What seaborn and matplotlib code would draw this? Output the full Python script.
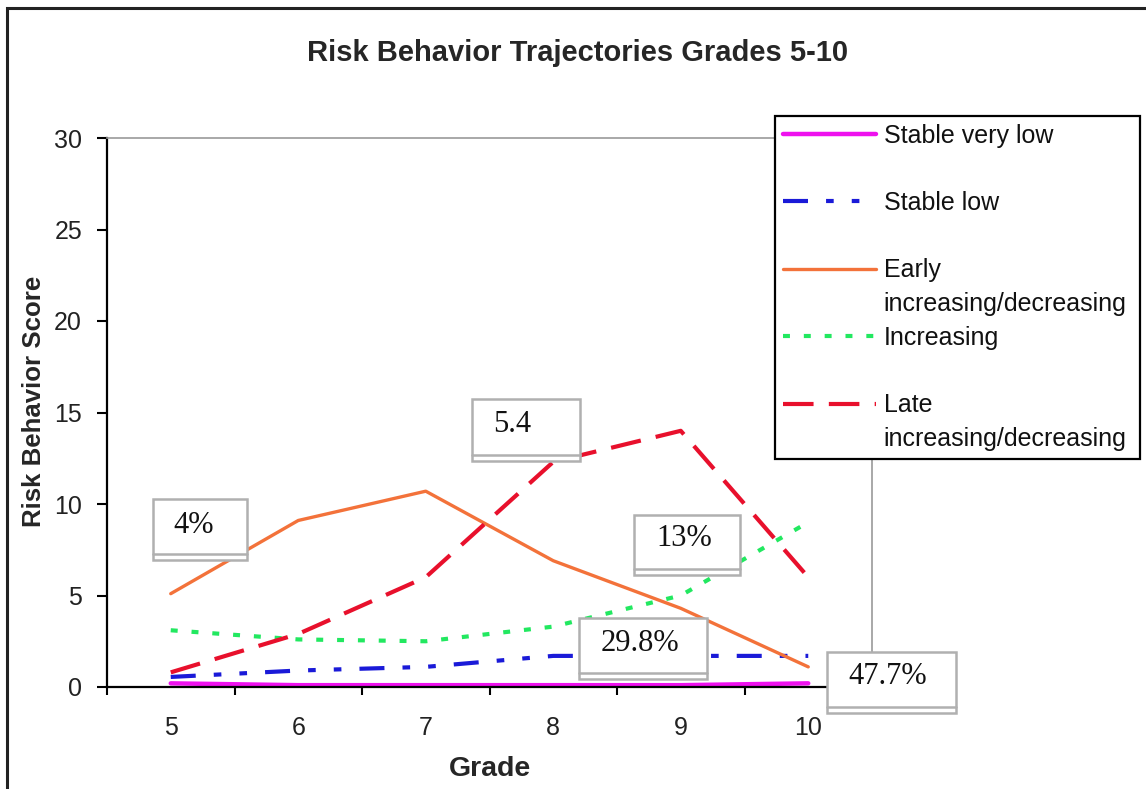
import matplotlib
matplotlib.use("Agg")
import matplotlib.pyplot as plt
import matplotlib.patches as mpatches
from matplotlib.lines import Line2D
import seaborn as sns
import pandas as pd
import numpy as np

# ---------------- data ----------------
grades = [5, 6, 7, 8, 9, 10]
series_names = ["Stable very low", "Stable low", "Early increasing/decreasing",
                "Increasing", "Late increasing/decreasing"]
stable_very_low = [0.2, 0.1, 0.1, 0.1, 0.1, 0.2]
stable_low = [0.55, 0.9, 1.1, 1.7, 1.7, 1.7]
early_inc_dec = [5.1, 9.1, 10.7, 6.9, 4.3, 1.1]
increasing = [3.1, 2.6, 2.5, 3.3, 5.0, 9.0]
late_inc_dec = [0.8, 2.9, 6.0, 12.3, 14.0, 6.0]
box_labels = ["4%", "5.4", "13%", "29.8%", "47.7%"]
y_ticks = [0, 5, 10, 15, 20, 25, 30]
title = "Risk Behavior Trajectories Grades 5-10"
x_label = "Grade"
y_label = "Risk Behavior Score"

values = [stable_very_low, stable_low, early_inc_dec, increasing, late_inc_dec]
df = pd.DataFrame({
    "Grade": grades * len(series_names),
    "Score": sum(values, []),
    "group": sum([[n] * len(grades) for n in series_names], []),
})

# ---------------- styles ----------------
sns.set_style("white")
plt.rcParams["font.family"] = ["Liberation Sans", "DejaVu Sans"]
plt.rcParams["lines.scale_dashes"] = False

colors = {
    "Stable very low": "#ee11ee",
    "Stable low": "#1a1ad8",
    "Early increasing/decreasing": "#f3723a",
    "Increasing": "#22e860",
    "Late increasing/decreasing": "#e8102c",
}
dashes = {
    "Stable very low": "",
    "Stable low": (18, 13, 5.5, 13, 5.5, 13),
    "Early increasing/decreasing": "",
    "Increasing": (5, 10),
    "Late increasing/decreasing": (22, 11),
}
widths = {
    "Stable very low": 3.2,
    "Stable low": 3.0,
    "Early increasing/decreasing": 2.4,
    "Increasing": 3.0,
    "Late increasing/decreasing": 3.0,
}

W, H = 1146, 789
fig = plt.figure(figsize=(W / 100, H / 100), dpi=100)
ax = fig.add_axes([107 / W, 1 - 687 / H, (872 - 107) / W, (687 - 138) / H])

sns.lineplot(data=df, x="Grade", y="Score", hue="group", style="group", size="group",
             hue_order=series_names, style_order=series_names, size_order=series_names,
             palette=colors, dashes=dashes, sizes=widths, legend=False, ax=ax)

ax.set_xlim(4.5, 10.5)
ax.set_ylim(0, 30)
ax.set_xticks(grades)
ax.set_xticklabels([str(g) for g in grades])
ax.set_xticks(np.arange(4.5, 10.51, 1.0), minor=True)
ax.set_yticks(y_ticks)
ax.tick_params(axis="x", which="major", length=0, pad=21, labelsize=18)
ax.tick_params(axis="x", which="minor", length=6, width=1.5, color="black", direction="out")
ax.tick_params(axis="y", which="major", length=7, width=1.5, color="black",
               direction="out", pad=11, labelsize=18, left=True)
ax.tick_params(axis="x", which="both", bottom=True)
for lbl in ax.get_xticklabels() + ax.get_yticklabels():
    lbl.set_color("#222222")

for s in ["left", "bottom"]:
    ax.spines[s].set_color("black")
    ax.spines[s].set_linewidth(1.6)
for s in ["top", "right"]:
    ax.spines[s].set_color("#9a9a9a")
    ax.spines[s].set_linewidth(1.2)

ax.set_xlabel(x_label, fontsize=20.5, fontweight="bold")
ax.set_ylabel(y_label, fontsize=18.6, fontweight="bold")
ax.xaxis.set_label_coords(0.5, -0.125)
ax.yaxis.set_label_coords(-0.080, 0.52)

fig.text(578 / W, 1 - 61 / H, title, ha="center", va="baseline",
         fontsize=21, fontweight="bold")

# ---------------- annotation boxes ----------------
box_geom = [  # (x0, x1, y_bottom, y_top, text_x, text_y) in data units
    (4.861, 5.598, 6.94, 10.27, 5.182, 8.85),
    (7.363, 8.210, 12.35, 15.73, 7.676, 14.32),
    (8.633, 9.465, 6.12, 9.40, 9.025, 8.14),
    (8.202, 9.206, 0.44, 3.77, 8.68, 2.40),
    (10.147, 11.159, -1.42, 1.91, 10.625, 0.55),
]
for lab, (x0, x1, yb, yt, tx, ty) in zip(box_labels, box_geom):
    rect = mpatches.Rectangle((x0, yb), x1 - x0, yt - yb, facecolor="white",
                              edgecolor="#b0b0b0", linewidth=1.8, zorder=5, clip_on=False)
    ax.add_patch(rect)
    ax.plot([x0, x1], [yb + 0.33, yb + 0.33], color="#b0b0b0", lw=1.8,
            zorder=6, clip_on=False)
    ax.text(tx, ty, lab, ha="center", va="center", fontsize=22,
            family=["Liberation Serif", "DejaVu Serif"], color="#111111",
            zorder=7, clip_on=False)

# ---------------- legend ----------------
handles, labels = [], []
blank = lambda: Line2D([], [], color="none")
for n in series_names:
    h = Line2D([], [], color=colors[n], lw=widths[n],
               linestyle="-" if dashes[n] == "" else (0, dashes[n]))
    if "/" in n:
        first, rest = n.split(" ", 1)
        handles += [h, blank()]
        labels += [first, rest]
    else:
        handles += [h, blank()]
        labels += [n, ""]

leg = fig.legend(handles, labels, loc="upper left",
                 bbox_to_anchor=(775 / W, 1 - 461 / H, (1140 - 775) / W, (461 - 116) / H),
                 mode="expand", borderaxespad=0, fontsize=18, handlelength=3.75,
                 handletextpad=0.3, labelspacing=0.39, borderpad=0.3,
                 frameon=True, fancybox=False, framealpha=1, edgecolor="black")
leg.get_frame().set_linewidth(1.6)
leg.set_zorder(10)
for t in leg.get_texts():
    t.set_color("#111111")

# outer figure border
fig.patches.append(mpatches.Rectangle((7 / W, -0.05), 1.2, 1 - 8 / H + 0.05,
                                      transform=fig.transFigure, fill=False,
                                      edgecolor="#222222", linewidth=2.2))

fig.savefig("out.png", dpi=100)
